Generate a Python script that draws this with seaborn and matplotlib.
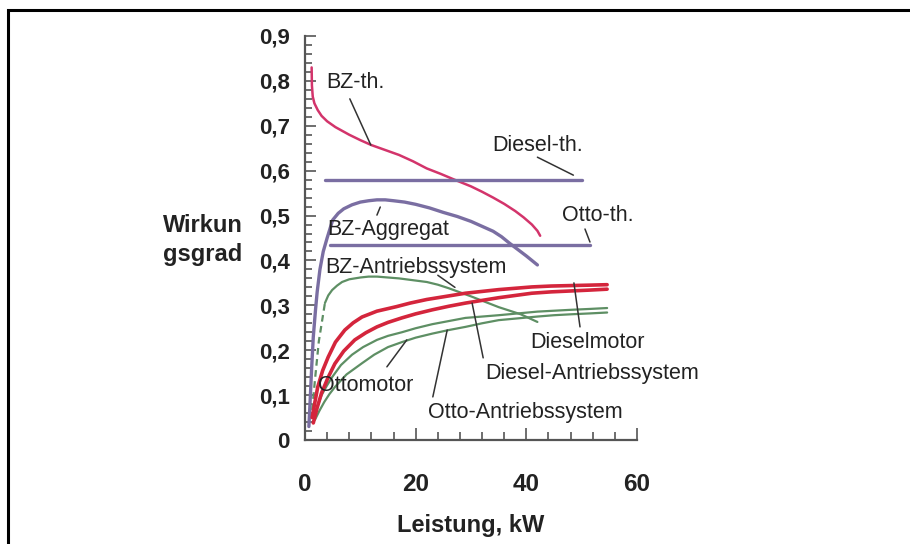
import matplotlib
matplotlib.use("Agg")
import matplotlib.pyplot as plt
import seaborn as sns
from matplotlib.ticker import MultipleLocator, FuncFormatter
from matplotlib.patches import Rectangle

# ---------------- data ----------------
bz_th_x = [1.2, 1.25, 1.4, 1.7, 2.3, 3, 4, 5.5, 8, 10, 12, 14.5, 17, 19.5, 22, 24.5, 27, 30, 32, 34, 36, 38, 39.5, 41, 42, 42.5]
bz_th_y = [0.83, 0.79, 0.765, 0.75, 0.735, 0.722, 0.71, 0.697, 0.68, 0.668, 0.657, 0.646, 0.635, 0.621, 0.605, 0.593, 0.58, 0.565, 0.553, 0.54, 0.526, 0.51, 0.496, 0.48, 0.466, 0.455]

diesel_th_x = [3.6, 50.0]
diesel_th_y = [0.579, 0.579]

otto_th_x = [4.5, 51.5]
otto_th_y = [0.435, 0.435]

bz_agg_x = [0.7, 0.9, 1.2, 1.5, 1.9, 2.2, 2.7, 3.3, 4, 5, 6, 7, 8.5, 10, 11.5, 13, 14.5, 16, 18, 20, 22.5, 25, 27.5, 30, 32, 34, 35.5, 37, 38.5, 40, 41, 42]
bz_agg_y = [0.03, 0.08, 0.16, 0.23, 0.29, 0.33, 0.38, 0.42, 0.45, 0.49, 0.505, 0.515, 0.524, 0.53, 0.533, 0.535, 0.535, 0.533, 0.53, 0.525, 0.517, 0.507, 0.498, 0.487, 0.476, 0.465, 0.453, 0.438, 0.424, 0.41, 0.4, 0.39]

bz_ant_dash_x = [1.3, 1.8, 2.5, 3.6]
bz_ant_dash_y = [0.067, 0.134, 0.22, 0.305]
bz_ant_x = [3.6, 4.2, 4.9, 5.8, 6.7, 8, 10, 11.5, 13, 15, 17, 19.5, 22, 24, 26, 28, 30, 32.5, 35, 37, 39, 42]
bz_ant_y = [0.305, 0.322, 0.334, 0.344, 0.352, 0.358, 0.362, 0.364, 0.364, 0.362, 0.36, 0.356, 0.352, 0.346, 0.338, 0.329, 0.32, 0.308, 0.296, 0.288, 0.28, 0.263]

dieselmotor_x = [1.3, 1.8, 2.3, 3.2, 4.2, 5.5, 7.2, 8.7, 10.3, 13, 16.5, 19, 22, 25.5, 29, 32, 35, 38, 41, 44.5, 48, 51.5, 54.6]
dieselmotor_y = [0.05, 0.085, 0.118, 0.155, 0.185, 0.218, 0.245, 0.261, 0.274, 0.287, 0.297, 0.305, 0.313, 0.32, 0.327, 0.331, 0.335, 0.338, 0.341, 0.343, 0.344, 0.345, 0.346]

diesel_ant_x = [1.5, 2.2, 3, 4.2, 5.4, 7, 9, 11, 13, 15, 17.5, 20, 23, 26, 29, 32, 35, 38, 41, 44.5, 48, 51.5, 54.6]
diesel_ant_y = [0.038, 0.072, 0.105, 0.14, 0.17, 0.198, 0.223, 0.239, 0.252, 0.262, 0.272, 0.281, 0.29, 0.298, 0.305, 0.311, 0.317, 0.322, 0.327, 0.33, 0.332, 0.334, 0.336]

ottomotor_x = [1.8, 2.4, 3, 3.9, 4.9, 6.5, 8.5, 10.5, 13, 15, 17.5, 20, 23, 26, 29, 32, 35, 38.5, 42, 45, 48, 51.5, 54.6]
ottomotor_y = [0.06, 0.08, 0.1, 0.12, 0.14, 0.167, 0.19, 0.207, 0.223, 0.232, 0.24, 0.249, 0.258, 0.265, 0.272, 0.275, 0.278, 0.282, 0.286, 0.288, 0.29, 0.292, 0.294]

otto_ant_x = [1.8, 2.6, 3.5, 4.4, 5.4, 7.5, 10.3, 12.5, 15, 17.5, 20, 23, 26, 29, 32, 35, 38.5, 42, 45, 48, 51.5, 54.6]
otto_ant_y = [0.045, 0.065, 0.085, 0.102, 0.118, 0.146, 0.171, 0.19, 0.207, 0.218, 0.228, 0.237, 0.245, 0.252, 0.26, 0.267, 0.271, 0.275, 0.278, 0.28, 0.282, 0.284]

# labels: text, text position (x, y), leader line start, leader line end
labels = ["BZ-th.", "Diesel-th.", "Otto-th.", "BZ-Aggregat", "BZ-Antriebssystem",
          "Dieselmotor", "Diesel-Antriebssystem", "Ottomotor", "Otto-Antriebssystem"]
label_pos = [(3.9, 0.797), (33.8, 0.657), (46.5, 0.501), (4.0, 0.468), (3.6, 0.385),
             (40.7, 0.218), (32.5, 0.149), (2.3, 0.122), (22.2, 0.062)]
leader_from = [(8.1, 0.76), (42.0, 0.63), (50.6, 0.47), (13.0, 0.501), (24.0, 0.367),
               (49.7, 0.252), (32.2, 0.183), (14.8, 0.163), (23.1, 0.096)]
leader_to = [(11.9, 0.657), (48.5, 0.59), (51.5, 0.441), (13.6, 0.519), (27.1, 0.34),
             (48.6, 0.35), (30.2, 0.305), (18.4, 0.223), (25.7, 0.245)]

x_ticks = [0, 20, 40, 60]
y_ticks = [0, 0.1, 0.2, 0.3, 0.4, 0.5, 0.6, 0.7, 0.8, 0.9]
x_label = "Leistung, kW"
y_label = "Wirkun\ngsgrad"

# ---------------- style ----------------
sns.set_style("white")
plt.rcParams["font.family"] = ["Liberation Sans", "DejaVu Sans"]

W, H = 910, 544
fig = plt.figure(figsize=(W / 100, H / 100), dpi=100)
ax = fig.add_axes([305 / W, (H - 440) / H, 332 / W, 404 / H])

red = "#d4253c"
pink = "#d3346b"
purple = "#7a6ea2"
green = "#5e8f64"

def line(x, y, color, lw, ls="-"):
    sns.lineplot(x=x, y=y, ax=ax, color=color, linewidth=lw, linestyle=ls,
                 estimator=None, sort=False, legend=False)

line(bz_th_x, bz_th_y, pink, 1.8)
line(diesel_th_x, diesel_th_y, purple, 2.4)
line(otto_th_x, otto_th_y, purple, 2.4)
line(bz_agg_x, bz_agg_y, purple, 2.4)
line(bz_ant_dash_x, bz_ant_dash_y, green, 1.6, (0, (3, 2)))
line(bz_ant_x, bz_ant_y, green, 1.6)
line(otto_ant_x, otto_ant_y, green, 1.6)
line(ottomotor_x, ottomotor_y, green, 1.6)
line(diesel_ant_x, diesel_ant_y, red, 2.6)
line(dieselmotor_x, dieselmotor_y, red, 2.6)

for t, p, a, b in zip(labels, label_pos, leader_from, leader_to):
    ax.text(p[0], p[1], t, ha="left", va="center", fontsize=15.5, color="#222222")
    ax.annotate("", xy=b, xytext=a,
                arrowprops=dict(arrowstyle="-", color="#333333", lw=1.1,
                                shrinkA=0, shrinkB=0))

ax.set_xlim(0, 60)
ax.set_ylim(0, 0.9)
for s in ["top", "right"]:
    ax.spines[s].set_visible(False)
for s in ["left", "bottom"]:
    ax.spines[s].set_color("#555555")
    ax.spines[s].set_linewidth(1.6)

ax.set_xticks(x_ticks)
ax.set_yticks(y_ticks)
ax.xaxis.set_minor_locator(MultipleLocator(4))
ax.yaxis.set_minor_locator(MultipleLocator(0.02))
ax.yaxis.set_major_formatter(FuncFormatter(lambda v, p: "0" if abs(v) < 1e-9 else f"{v:.1f}".replace(".", ",")))
ax.tick_params(axis="both", which="both", direction="in", color="#555555", width=1.2,
               bottom=True, left=True, top=False, right=False)
ax.tick_params(axis="y", which="major", length=8, pad=11, labelsize=16)
ax.tick_params(axis="y", which="minor", length=5)
ax.tick_params(axis="x", which="major", length=9, pad=24, labelsize=17.5)
ax.tick_params(axis="x", which="minor", length=6)
for lab in ax.get_xticklabels() + ax.get_yticklabels():
    lab.set_fontweight("bold")
    lab.set_color("#222222")

ax.set_xlabel(x_label, fontsize=17, fontweight="bold", color="#222222", labelpad=13)
fig.text(163 / W, 1 - 240 / H, y_label, ha="left", va="center", fontsize=17,
         fontweight="bold", color="#222222", linespacing=1.35)

# outer frame (only top and left edges are inside the picture)
fig.patches.append(Rectangle((7.5 / W, -0.1), 1.2, 1.1 - 10 / H, transform=fig.transFigure,
                             fill=False, edgecolor="black", linewidth=2.2))

fig.savefig("out.png", dpi=100)
